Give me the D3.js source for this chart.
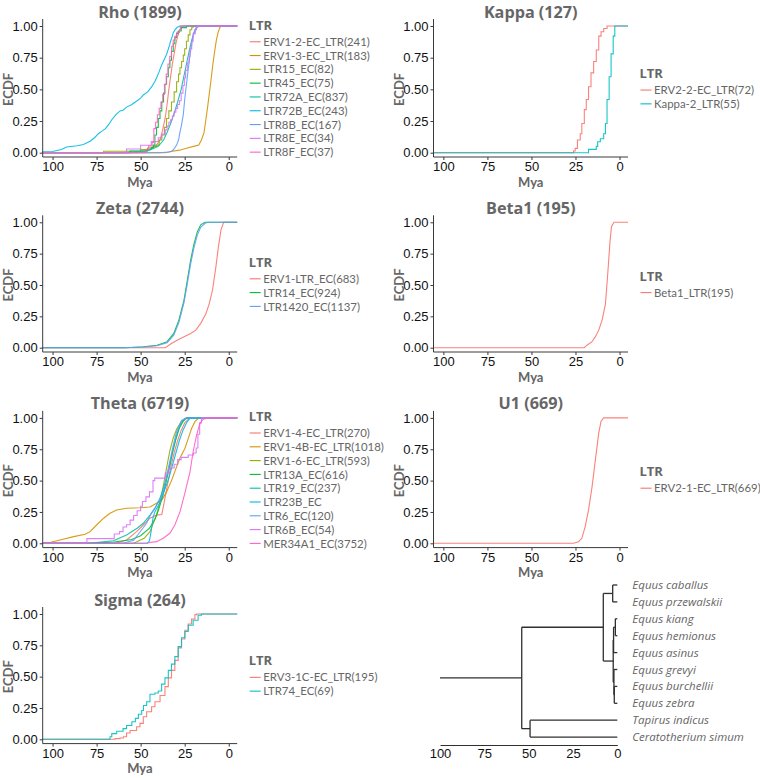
<!DOCTYPE html>
<html><head><meta charset="utf-8">
<script src="https://cdnjs.cloudflare.com/ajax/libs/d3/7.8.5/d3.min.js"></script>
<style>body{margin:0;background:#fff} svg{display:block}</style>
</head><body>
<svg id="chart" width="760" height="778"></svg>
<script>
// ---------------- DATA ----------------
const xTicks = [100, 75, 50, 25, 0];
const yTicks = [0, 0.25, 0.5, 0.75, 1];
const hue9 = ["#F8766D","#D39200","#93AA00","#00BA38","#00C19F","#00B9E3","#619CFF","#DB72FB","#FF61C3"];
const hue3 = ["#F8766D","#00BA38","#619CFF"];
const hue2 = ["#F8766D","#00BFC4"];
const hue1 = ["#F8766D"];

// Rho (Mya, ECDF)
const rhoNames = ["ERV1-2-EC_LTR(241)","ERV1-3-EC_LTR(183)","LTR15_EC(82)","LTR45_EC(75)","LTR72A_EC(837)","LTR72B_EC(243)","LTR8B_EC(167)","LTR8E_EC(34)","LTR8F_EC(37)"];
const rhoERV1_2 = [[52,0],[47,0.01],[44,0.03],[41,0.06],[39,0.1],[37.5,0.18],[36,0.28],[35,0.38],[34,0.5],[33,0.6],[32,0.7],[31,0.78],[30,0.86],[29,0.92],[28,0.96],[27,0.99],[26,1]];
const rhoERV1_3 = [[36,0],[33,0.01],[28,0.02],[24,0.035],[20,0.05],[17,0.06],[15.5,0.1],[14,0.16],[13,0.26],[12,0.36],[11,0.47],[10,0.58],[9,0.7],[8,0.8],[7,0.89],[6,0.95],[5,0.99],[4.3,1]];
const rhoLTR15 = [[71,0.012],[50,0.024],[46,0.037],[43,0.05],[41,0.06],[39.5,0.1],[38,0.14],[36.5,0.2],[35.3,0.27],[34,0.33],[32.5,0.4],[31,0.48],[29.6,0.56],[28.5,0.62],[27.7,0.67],[26.8,0.72],[25.8,0.77],[25,0.82],[24,0.88],[23,0.93],[22,0.97],[21,0.99],[20.2,1]];
const rhoLTR45 = [[56,0.013],[46,0.027],[44,0.04],[42.8,0.06],[41.9,0.14],[41,0.2],[40,0.27],[39,0.33],[38,0.4],[37,0.47],[36.2,0.54],[35.3,0.6],[34.3,0.67],[33.4,0.73],[32.5,0.8],[31.5,0.86],[30.6,0.91],[29.6,0.94],[28.7,0.96],[27,0.987],[24,1]];
const rhoLTR72A = [[62,0],[50,0.01],[45,0.02],[40,0.05],[37,0.1],[35,0.16],[33,0.23],[31,0.31],[29,0.4],[27,0.5],[25.5,0.6],[24,0.7],[22.5,0.8],[21,0.89],[19.5,0.95],[18,0.99],[16.5,1]];
const rhoLTR72B = [[105.6,0.008],[100,0.01],[95,0.025],[92,0.045],[86,0.055],[82.5,0.064],[78.7,0.09],[76,0.12],[74,0.15],[72,0.17],[70,0.19],[68,0.225],[66.4,0.26],[64,0.3],[61.7,0.33],[60,0.335],[58,0.36],[55,0.38],[53,0.4],[50,0.43],[48.5,0.456],[46,0.48],[43.8,0.52],[42,0.56],[41,0.59],[39.5,0.64],[38,0.695],[36.5,0.74],[35.3,0.775],[34,0.83],[33,0.88],[32,0.92],[31.5,0.947],[30.5,0.97],[29.2,0.99],[27.7,1]];
const rhoLTR8B = [[40,0],[34,0.005],[32.5,0.01],[31,0.03],[29.6,0.06],[28.5,0.1],[27.7,0.16],[26.8,0.22],[25.8,0.3],[25,0.42],[24,0.54],[23,0.66],[22,0.77],[21,0.86],[20.2,0.93],[19.2,0.97],[18.3,0.99],[16.4,1]];
const rhoLTR8E = [[58,0.029],[50,0.059],[44,0.088],[40,0.118],[38,0.147],[36,0.18],[35,0.21],[34,0.24],[33,0.26],[32,0.29],[31,0.32],[30,0.35],[29,0.38],[28,0.41],[27,0.47],[26,0.53],[25.2,0.59],[24.5,0.65],[23.5,0.71],[22.5,0.76],[22,0.82],[21,0.88],[20.2,0.94],[19,0.97],[18.3,1]];
const rhoLTR8F = [[47,0.027],[45.5,0.054],[43.5,0.08],[42.5,0.19],[41.5,0.24],[40.5,0.3],[39.5,0.35],[38.5,0.4],[37.5,0.46],[36.5,0.54],[35.5,0.62],[34.5,0.7],[33.5,0.76],[32.5,0.84],[31.5,0.89],[30.5,0.92],[29.5,0.95],[28,0.97],[27.5,1]];

// Kappa
const kappaNames = ["ERV2-2-EC_LTR(72)","Kappa-2_LTR(55)"];
const kappaERV2_2 = [[26.1,0.014],[25.2,0.034],[23.9,0.1],[22.3,0.15],[21.4,0.23],[20,0.34],[18.9,0.42],[17.6,0.52],[16.2,0.63],[14.7,0.72],[13.2,0.81],[11.8,0.92],[10.5,0.955],[9,0.98],[7.1,1]];
const kappaK2 = [[17.6,0.026],[13.2,0.05],[12.4,0.087],[10.9,0.11],[9,0.15],[8,0.23],[7.1,0.42],[5.9,0.6],[4.8,0.78],[3.6,0.92],[2.7,1]];

// Zeta
const zetaNames = ["ERV1-LTR_EC(683)","LTR14_EC(924)","LTR1420_EC(1137)"];
const zetaERV1 = [[36,0],[33,0.03],[29.3,0.06],[25.4,0.088],[21.6,0.114],[18.7,0.14],[15.9,0.194],[13,0.27],[11.1,0.35],[9.2,0.46],[7.3,0.645],[5.9,0.8],[4.4,0.94],[2.9,1]];
const zetaLTR14 = [[58,0],[48.4,0.008],[40.7,0.02],[35,0.048],[31.2,0.114],[28.3,0.22],[25.4,0.38],[23.5,0.54],[21.6,0.7],[19.7,0.83],[17.8,0.925],[15.9,0.98],[13.6,1]];
const zetaLTR1420 = [[60,0],[48.4,0.006],[40.7,0.015],[35,0.04],[31.2,0.1],[28.3,0.2],[25.4,0.36],[23.5,0.51],[21.6,0.67],[19.7,0.8],[17.8,0.9],[15.9,0.96],[13.6,0.99],[12,1]];

// Beta1
const beta1Names = ["Beta1_LTR(195)"];
const beta1LTR = [[20,0],[18.5,0.02],[15.6,0.048],[13.7,0.088],[11.8,0.14],[9.9,0.22],[8,0.35],[6.7,0.59],[5.5,0.83],[4.6,0.965],[3.2,1]];

// Theta
const thetaNames = ["ERV1-4-EC_LTR(270)","ERV1-4B-EC_LTR(1018)","ERV1-6-EC_LTR(593)","LTR13A_EC(616)","LTR19_EC(237)","LTR23B_EC","LTR6_EC(120)","LTR6B_EC(54)","MER34A1_EC(3752)"];
const thetaERV1_4 = [[64,0],[58,0.027],[52.3,0.093],[48.5,0.146],[44.7,0.2],[41,0.225],[38,0.23],[37,0.3],[35,0.45],[33,0.6],[31,0.72],[29,0.82],[27,0.9],[25,0.96],[22,1]];
const thetaERV1_4B = [[105.6,0],[101,0.008],[95.7,0.027],[88,0.053],[81.5,0.072],[78.7,0.093],[75,0.146],[71,0.2],[67.4,0.24],[63.6,0.265],[58,0.28],[50.4,0.284],[44.7,0.29],[41,0.32],[38,0.345],[35.3,0.41],[32.5,0.5],[29.6,0.61],[27.7,0.68],[24.9,0.756],[23,0.835],[21.1,0.915],[19.2,0.97],[17.4,0.995],[15.5,1]];
const thetaERV1_6 = [[54,0],[48,0.04],[44.7,0.093],[41,0.225],[38.1,0.385],[35.3,0.6],[33.4,0.74],[31.5,0.84],[29.6,0.91],[27,0.97],[25,0.99],[23,1]];
const thetaLTR13A = [[80,0],[65,0.01],[55,0.03],[50,0.06],[45,0.12],[42,0.19],[40,0.26],[38,0.35],[36,0.46],[34,0.59],[32,0.72],[30,0.83],[28,0.92],[26,0.97],[24,1]];
const thetaLTR19 = [[76.8,0.004],[65.5,0.02],[58,0.066],[52,0.12],[48.5,0.16],[44.7,0.225],[41.9,0.28],[39,0.36],[36.2,0.48],[33.4,0.62],[31.5,0.756],[29.6,0.86],[27.7,0.94],[24.9,0.995],[22,1]];
const thetaLTR23B = [[46,0],[45,0.02],[44,0.1],[43,0.2],[42,0.25],[40,0.3],[38,0.36],[36,0.44],[34,0.52],[32,0.62],[30,0.72],[28,0.82],[26,0.9],[24,0.96],[22,1]];
const thetaLTR6 = [[60,0],[54,0.025],[50.4,0.09],[46.6,0.16],[44.7,0.22],[41,0.3],[37.2,0.41],[34.3,0.6],[31.5,0.78],[29.6,0.89],[26.8,0.98],[24,1]];
const thetaLTR6B = [[80.5,0.037],[65,0.074],[62,0.093],[60,0.13],[58,0.148],[56,0.185],[54,0.222],[52,0.26],[50,0.296],[49,0.333],[47,0.37],[45,0.41],[43,0.5],[42,0.52],[36,0.56],[34,0.6],[31,0.63],[29,0.667],[27,0.685],[23,0.704],[20,0.72],[18.5,0.76],[17.5,0.87],[16.5,0.96],[15.5,1]];
const thetaMER34A1 = [[50,0],[46.6,0.003],[41,0.013],[37.2,0.04],[33.4,0.08],[30.6,0.146],[27.7,0.25],[24.9,0.4],[22,0.57],[20.2,0.73],[18.3,0.86],[16.4,0.955],[14.5,0.99],[11.7,1]];

// U1
const u1Names = ["ERV2-1-EC_LTR(669)"];
const u1ERV2_1 = [[26.1,0],[23.3,0.013],[21.4,0.04],[19.5,0.133],[17.6,0.267],[15.6,0.45],[13.7,0.667],[11.8,0.88],[10.5,0.973],[9,1]];

// Sigma
const sigmaNames = ["ERV3-1C-EC_LTR(195)","LTR74_EC(69)"];
const sigmaERV3 = [[64.5,0.005],[61.7,0.01],[59.8,0.02],[58,0.05],[56,0.07],[52.3,0.1],[50.4,0.127],[48.5,0.18],[46.6,0.22],[43.8,0.26],[41.9,0.3],[39,0.35],[36.2,0.42],[34.3,0.49],[32.5,0.55],[30.6,0.63],[28.7,0.73],[26.8,0.8],[24.9,0.87],[23,0.92],[21.1,0.96],[19.2,0.995],[18.3,1]];
const sigmaLTR74 = [[67.4,0.02],[66.4,0.045],[63.6,0.064],[60,0.085],[58,0.11],[55,0.14],[53,0.167],[51.3,0.2],[49.4,0.23],[48.4,0.27],[46.6,0.3],[44.7,0.36],[41.9,0.37],[40,0.385],[38.1,0.44],[36.2,0.49],[34.3,0.55],[32.5,0.6],[30.6,0.66],[28.7,0.74],[26.8,0.81],[24.9,0.86],[23,0.91],[20.2,0.95],[17.4,0.99],[15.5,1]];

// Tree (node ages in Mya)
const treeTips = ["Equus caballus","Equus przewalskii","Equus kiang","Equus hemionus","Equus asinus","Equus grevyi","Equus burchellii","Equus zebra","Tapirus indicus","Ceratotherium simum"];
const treeRootStem = 100;
const treeData = {age:53.9, children:[
  {age:7.9, children:[
    {age:2.6, children:[{name:"Equus caballus",age:0},{name:"Equus przewalskii",age:0}]},
    {age:2.3, children:[
      {age:2.1, children:[{age:1.1, children:[{name:"Equus kiang",age:0},{name:"Equus hemionus",age:0}]},{name:"Equus asinus",age:0}]},
      {age:1.9, children:[{name:"Equus grevyi",age:0},{age:1.7, children:[{name:"Equus burchellii",age:0},{name:"Equus zebra",age:0}]}]}
    ]}
  ]},
  {age:49.2, children:[{name:"Tapirus indicus",age:0},{name:"Ceratotherium simum",age:0}]}
]};

// ---------------- PANELS ----------------
const panels = [
  {title:"Rho (1899)", col:0, row:0, names:rhoNames, colors:hue9, data:[rhoERV1_2,rhoERV1_3,rhoLTR15,rhoLTR45,rhoLTR72A,rhoLTR72B,rhoLTR8B,rhoLTR8E,rhoLTR8F], step:[false,false,true,true,false,false,false,true,true]},
  {title:"Kappa (127)", col:1, row:0, names:kappaNames, colors:hue2, data:[kappaERV2_2,kappaK2], step:[true,true]},
  {title:"Zeta (2744)", col:0, row:1, names:zetaNames, colors:hue3, data:[zetaERV1,zetaLTR14,zetaLTR1420], step:[false,false,false]},
  {title:"Beta1 (195)", col:1, row:1, names:beta1Names, colors:hue1, data:[beta1LTR], step:[false]},
  {title:"Theta (6719)", col:0, row:2, names:thetaNames, colors:hue9, data:[thetaERV1_4,thetaERV1_4B,thetaERV1_6,thetaLTR13A,thetaLTR19,thetaLTR23B,thetaLTR6,thetaLTR6B,thetaMER34A1], step:[false,false,false,false,false,false,false,true,false]},
  {title:"U1 (669)", col:1, row:2, names:u1Names, colors:hue1, data:[u1ERV2_1], step:[false]},
  {title:"Sigma (264)", col:0, row:3, names:sigmaNames, colors:hue2, data:[sigmaERV3,sigmaLTR74], step:[true,true]}
];

// ---------------- LAYOUT ----------------
const svg = d3.select("#chart");
const X_DOMAIN = [105.6, -4.8];
const COL_LEFT = [42.7, 433.5];
const PLOT_W = 194.5;
const ROW_Y1 = [26, 222.3, 417.9, 614];
const ROW_Y0 = [152.7, 347.7, 543.3, 739.3];
const GREY = "#666666";
const AXIS = "#3a3a3a";
const SANS = "'Open Sans', 'DejaVu Sans', sans-serif";
const LEG = "Lato, 'Open Sans', sans-serif";
const ARIAL = "'Liberation Sans', Arial, sans-serif";

panels.forEach(p => {
  const left = COL_LEFT[p.col], right = left + PLOT_W;
  const y1 = ROW_Y1[p.row], y0 = ROW_Y0[p.row];
  const x = d3.scaleLinear().domain(X_DOMAIN).range([left, right]);
  const y = d3.scaleLinear().domain([0, 1]).range([y0, y1]);
  const bottom = y0 + 4.3, top = y1 - 7;
  const g = svg.append("g");

  g.append("text").attr("x", (left + right) / 2).attr("y", y1 - 8.5)
    .attr("text-anchor", "middle").attr("font-family", SANS).attr("font-weight", "bold")
    .attr("font-size", 16.2).attr("fill", GREY).text(p.title);

  // lines
  p.data.forEach((d, i) => {
    const pts = [[X_DOMAIN[0], 0]].concat(d, [[X_DOMAIN[1], 1]]);
    const line = d3.line().x(v => x(v[0])).y(v => y(v[1]))
      .curve(p.step[i] ? d3.curveStepAfter : d3.curveLinear);
    g.append("path").attr("d", line(pts)).attr("fill", "none")
      .attr("stroke", p.colors[i]).attr("stroke-width", 1.1).attr("stroke-opacity", 0.9);
  });

  // axes
  const ya = g.append("g").attr("transform", `translate(${left},0)`)
    .call(d3.axisLeft(y).tickValues(yTicks).tickFormat(d3.format(".2f")).tickSize(3).tickPadding(2).tickSizeOuter(0));
  const xa = g.append("g").attr("transform", `translate(0,${bottom})`)
    .call(d3.axisBottom(x).tickValues(xTicks).tickFormat(d3.format("d")).tickSize(3).tickPadding(2).tickSizeOuter(0));
  [ya, xa].forEach(a => {
    a.select(".domain").remove();
    a.selectAll("line").attr("stroke", AXIS);
    a.selectAll("text").attr("font-family", ARIAL).attr("font-size", 13).attr("fill", "#111");
  });
  g.append("line").attr("x1", left).attr("x2", left).attr("y1", top).attr("y2", bottom).attr("stroke", AXIS);
  g.append("line").attr("x1", left).attr("x2", right).attr("y1", bottom).attr("y2", bottom).attr("stroke", AXIS);

  g.append("text").attr("x", (left + right) / 2).attr("y", bottom + 29.5)
    .attr("text-anchor", "middle").attr("font-family", LEG).attr("font-weight", "bold")
    .attr("font-size", 13).attr("fill", GREY).text("Mya");
  g.append("text").attr("transform", `translate(${left - 29.5},${(y0 + y1) / 2}) rotate(-90)`)
    .attr("text-anchor", "middle").attr("font-family", LEG).attr("font-weight", "bold")
    .attr("font-size", 13).attr("fill", GREY).text("ECDF");

  // legend
  const lx = right + 11.5;
  const n = p.names.length;
  const gapTitle = 16.8, gapItem = 13.8;
  const mid = (y0 + y1) / 2 - 0.8;
  const titleY = mid - (gapTitle + (n - 1) * gapItem) / 2;
  g.append("text").attr("x", lx).attr("y", titleY + 4.8).attr("font-family", SANS)
    .attr("font-weight", "bold").attr("font-size", 13).attr("fill", GREY).text("LTR");
  p.names.forEach((nm, i) => {
    const iy = titleY + gapTitle + i * gapItem;
    g.append("line").attr("x1", lx + 1).attr("x2", lx + 12).attr("y1", iy).attr("y2", iy)
      .attr("stroke", p.colors[i]).attr("stroke-width", 1.1);
    g.append("text").attr("x", lx + 14.5).attr("y", iy + 4.1).attr("font-family", LEG)
      .attr("font-size", 11.4).attr("fill", GREY).text(nm);
  });
});

// ---------------- TREE ----------------
const tx = d3.scaleLinear().domain([100, 0]).range([440, 617.3]);
const ty = d3.scalePoint().domain(treeTips).range([585, 737.1]);
const root = d3.hierarchy(treeData);
root.eachAfter(n => {
  n.py = n.children ? d3.mean(n.children, c => c.py) : ty(n.data.name);
  n.px = tx(n.data.age);
});
const tg = svg.append("g");
const TREE_C = "#2f2f2f";
tg.append("line").attr("x1", tx(treeRootStem)).attr("x2", root.px).attr("y1", root.py).attr("y2", root.py)
  .attr("stroke", TREE_C).attr("stroke-width", 1.3);
root.each(n => {
  if (n.children) {
    tg.append("line").attr("x1", n.px).attr("x2", n.px)
      .attr("y1", d3.min(n.children, c => c.py)).attr("y2", d3.max(n.children, c => c.py))
      .attr("stroke", TREE_C).attr("stroke-width", 1.3);
    n.children.forEach(c => {
      tg.append("line").attr("x1", n.px).attr("x2", c.px).attr("y1", c.py).attr("y2", c.py)
        .attr("stroke", TREE_C).attr("stroke-width", 1.3);
    });
  }
});
root.leaves().forEach(l => {
  tg.append("text").attr("x", l.px + 15).attr("y", l.py + 4).attr("font-family", SANS)
    .attr("font-style", "italic").attr("font-size", 11.5).attr("fill", GREY).text(l.data.name);
});
const ta = tg.append("g").attr("transform", "translate(0,745)")
  .call(d3.axisBottom(tx).tickValues(xTicks).tickFormat(d3.format("d")).tickSize(0).tickPadding(4).tickSizeOuter(0));
ta.select(".domain").attr("stroke", TREE_C);
ta.selectAll("text").attr("font-family", ARIAL).attr("font-size", 13).attr("fill", "#111");
</script>
</body></html>
